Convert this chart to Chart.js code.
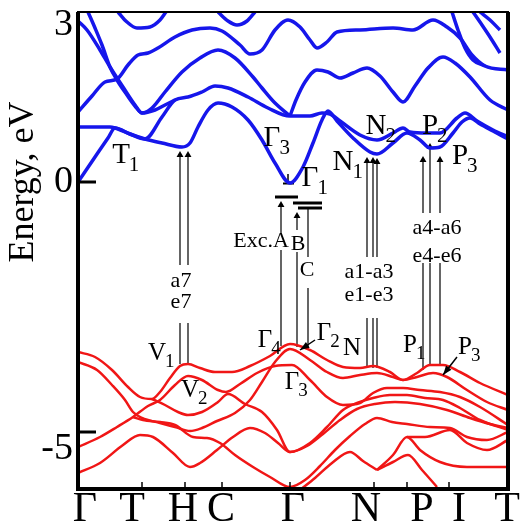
<!DOCTYPE html>
<html lang="en">
<head>
<meta charset="UTF-8">
<title>Band structure</title>
<script src="https://cdn.jsdelivr.net/npm/chart.js"></script>
<style>
  body { margin: 0; background: #fff; }
  #wrap { width: 526px; height: 529px; }
</style>
</head>
<body>
<div id="wrap"><canvas id="bands"></canvas></div>
<script>
// k runs along the path Γ-T-H-C-Γ-N-P-I-T (arbitrary units), energies in eV
const symTicks = [64, 107, 144, 212, 296, 329, 371];
const symLabels = ['Γ', 'T', 'H', 'C', 'Γ', 'N', 'P', 'I', 'T'];
const symLabelPos = [7, 54, 105, 143, 215, 288, 344, 381, 429];
const energyTicks = [-5, 0, 3];

// conduction bands [k, E]
const cb1 = [[0,0],[17,0.5],[30,0.88],[37,1.08],[52,0.96],[67,0.86],[84,0.78],[104,0.7],[112,0.78],[120,1.1],[130,1.44],[140,1.58],[154,1.5],[170,1.24],[184,0.84],[197,0.38],[212,-0.02],[225,0.3],[235,0.78],[244,1.24],[250,1.42],[259,1.22],[275,0.88],[292,0.6],[299,0.56],[315,0.78],[329,0.98],[342,0.84],[352,0.68],[362,0.7],[375,0.98],[384,1.2],[392,1.28],[402,1.16],[415,1.02],[430,0.86]];
const cb2 = [[0,1.1],[22,1.1],[32,1.1],[37,1.08],[52,0.96],[67,0.86],[84,1.3],[97,1.64],[110,1.7],[124,1.8],[137,1.92],[150,1.88],[170,1.7],[190,1.48],[212,1.32],[232,1.32],[244,1.38],[252,1.36],[262,1.22],[282,0.94],[299,0.84],[315,0.98],[325,1.08],[332,1.0],[349,0.98],[362,0.98],[379,1.28],[387,1.38],[399,1.22],[415,1.04],[430,0.9]];
const cb3 = [[0,1.4],[14,1.72],[27,2.0],[39,2.06],[50,2.34],[60,2.54],[70,2.58],[80,2.68],[97,2.9],[114,3.04],[132,3.08],[144,3.02],[162,2.74],[172,2.56],[184,2.64],[197,3.04],[210,3.24],[222,3.1],[232,2.84],[239,2.68],[249,2.8],[259,3.0],[282,3.04],[315,3.08],[335,3.04],[355,3.24],[369,3.1],[382,2.88],[394,2.54],[407,2.32],[430,2.24]];
const cb4 = [[0,3.22],[9,3.04],[22,2.64],[32,2.3],[45,1.9],[57,1.54],[64,1.38],[74,1.48],[87,1.8],[104,2.2],[122,2.48],[140,2.64],[157,2.48],[175,2.1],[184,1.88],[197,1.58],[212,1.32]];
const cb5 = [[10,3.4],[17,3.08],[24,2.74],[32,2.3],[39,2.04],[49,1.74],[57,1.52],[64,1.38],[77,1.44],[87,1.54],[97,1.64]];
const cb6 = [[212,1.32],[218,1.64],[227,2.0],[239,2.24],[250,2.2],[262,2.08],[275,2.18],[289,2.28],[302,2.12],[315,1.8],[325,1.6],[337,1.92],[350,2.28],[365,2.5],[377,2.38],[392,2.1],[412,1.64],[430,1.44]];
const cb7 = [[40,3.4],[49,3.2],[59,3.08],[72,3.1],[82,3.24],[88,3.4]];
const cb8 = [[140,3.4],[150,3.22],[159,3.14],[169,3.22],[177,3.4]];
const cb9 = [[374,3.4],[380,3.04],[387,2.68],[395,2.44],[407,2.32]];
const cb10 = [[395,3.4],[404,3.14],[412,2.9],[422,2.58]];
const cb11 = [[402,3.4],[412,3.24],[422,3.04]];

// valence bands [k, E]
const vb1 = [[0,-3.4],[17,-3.5],[34,-3.76],[50,-4.1],[62,-4.3],[74,-4.34],[82,-4.2],[92,-3.92],[102,-3.68],[110,-3.64],[122,-3.72],[137,-3.8],[154,-3.8],[172,-3.68],[192,-3.48],[212,-3.24],[232,-3.36],[249,-3.56],[265,-3.7],[282,-3.72],[295,-3.68],[312,-3.8],[325,-3.96],[339,-3.82],[352,-3.66],[365,-3.66],[382,-3.8],[402,-4.02],[430,-4.26]];
const vb2 = [[0,-3.6],[19,-3.76],[34,-4.06],[47,-4.36],[55,-4.6],[64,-4.72],[82,-4.82],[97,-4.9],[112,-4.98],[124,-4.92],[139,-4.78],[157,-4.62],[172,-4.36],[184,-4.0],[197,-3.6],[212,-3.34],[232,-3.56],[249,-3.8],[265,-3.92],[282,-3.86],[299,-3.82],[315,-3.9],[325,-3.96],[339,-3.9],[355,-3.82],[369,-3.9],[389,-4.16],[409,-4.4],[430,-4.56]];
const vb3 = [[0,-5.3],[22,-5.1],[39,-4.9],[55,-4.7],[70,-4.48],[82,-4.36],[97,-4.06],[110,-3.88],[124,-3.96],[140,-4.16],[148,-4.2],[162,-4.04],[179,-3.82],[197,-3.68],[214,-3.66],[232,-3.96],[249,-4.3],[265,-4.46],[282,-4.42],[295,-4.22],[309,-4.12],[325,-4.12],[342,-4.16],[362,-4.2],[382,-4.3],[402,-4.5],[430,-4.86]];
const vb4 = [[74,-4.34],[87,-4.46],[100,-4.6],[110,-4.66],[124,-4.6],[140,-4.4],[150,-4.24],[167,-4.44],[184,-4.6],[199,-4.96],[212,-5.4],[232,-5.22],[249,-4.9],[265,-4.56],[279,-4.42],[295,-4.32],[312,-4.26],[329,-4.26],[347,-4.32],[365,-4.36],[382,-4.52],[402,-4.76],[430,-4.96]];
const vb5 = [[0,-5.82],[22,-5.62],[45,-5.26],[62,-5.06],[75,-5.1],[95,-5.42],[112,-5.7],[122,-5.62],[139,-5.36],[155,-5.1],[172,-4.92],[187,-5.02],[200,-5.22],[212,-5.4],[229,-5.28],[245,-5.04],[262,-4.76],[279,-4.54],[297,-4.44],[317,-4.4],[342,-4.44],[369,-4.56],[392,-4.72],[412,-4.84],[430,-4.92]];
const vb6 = [[55,-4.7],[65,-4.76],[82,-4.8],[97,-4.86],[115,-5.1],[129,-5.12],[142,-5.22],[157,-5.46],[175,-5.7],[192,-5.9],[212,-6.1],[227,-5.96],[242,-5.68],[257,-5.36],[272,-5.08],[287,-4.84],[299,-4.72],[314,-4.8],[329,-4.84],[352,-4.9],[372,-4.92],[389,-5.1],[409,-5.16],[430,-5.0]];
const vb7 = [[299,-5.76],[315,-5.46],[329,-5.1],[342,-5.36],[362,-5.6],[389,-5.7],[430,-5.7]];
const vb8 = [[329,-5.1],[347,-5.1],[372,-4.96],[389,-5.22],[409,-5.36],[430,-5.16]];
const vb9 = [[222,-6.16],[237,-5.92],[254,-5.62],[272,-5.4],[285,-5.58],[299,-5.76]];
const vb10 = [[299,-5.76],[315,-5.6],[330,-5.46],[344,-5.76],[359,-6.1]];

// optical transitions: k, lower level, text gap from / to, upper level, arrow head
const transitions = [
  [102, -3.64, -2.82, -1.66, 0.62, 1],
  [110, -3.64, -2.82, -1.66, 0.62, 1],
  [203, -3.28, -1.36, -1.02, -0.38, 1],
  [219, -3.3, -1.4, -0.96, -0.6, 1],
  [230, -3.36, -2.12, -1.5, -0.52, 0],
  [289, -3.72, -2.72, -1.5, 0.5, 1],
  [295, -3.72, -2.72, -1.5, 0.5, 1],
  [299, -3.72, -2.72, -1.5, 0.48, 1],
  [345, -3.76, -1.62, -0.62, 0.52, 1],
  [352, -3.66, -1.62, -0.62, 0.78, 1],
  [362, -3.66, -1.62, -0.62, 0.52, 1]
];
const transitionText = [
  ['a7', 103, -1.98], ['e7', 103, -2.4],
  ['Exc.A', 183, -1.18], ['B', 220, -1.24], ['C', 229, -1.76],
  ['a1-a3', 291, -1.8], ['e1-e3', 291, -2.26],
  ['a4-a6', 359, -0.92], ['e4-e6', 359, -1.48]
];
// exciton levels under the conduction band minimum: k from, k to, E
const excitonBars = [[197, 220, -0.3], [215, 244, -0.42], [220, 244, -0.52]];
// small pointer arrows: from (k, E) to (k, E)
const pointers = [[237, -3.16, 222, -3.36], [379, -3.5, 365, -3.86]];

// point labels: letter, subscript, k, E
const cbPointLabels = [
  ['T', '1', 43, 0.54], ['Γ', '3', 194, 0.88], ['Γ', '1', 232, 0.08],
  ['N', '1', 265, 0.4], ['N', '2', 298, 1.12], ['P', '2', 352, 1.12], ['P', '3', 382, 0.52]
];
const vbPointLabels = [
  ['V', '1', 79, -3.42], ['V', '2', 112, -4.16], ['Γ', '4', 187, -3.16],
  ['Γ', '2', 246, -3.02], ['N', '', 274, -3.32], ['P', '1', 332, -3.26],
  ['P', '3', 387, -3.3], ['Γ', '3', 214, -4.0]
];

const SERIF = '"Liberation Serif", "Times New Roman", serif';
const BLUE = 'rgb(22,22,235)';
const RED = 'rgb(240,22,22)';

function band(points, color, width) {
  return {
    data: points.map(p => ({ x: p[0], y: p[1] })),
    borderColor: color, borderWidth: width, pointRadius: 0,
    cubicInterpolationMode: 'monotone', fill: false
  };
}

function transitionLine(t) {
  const [k, lo, g1, g2, hi, arrow] = t;
  return {
    data: [{ x: k, y: lo }, { x: k, y: g1 }, { x: k, y: null }, { x: k, y: g2 }, { x: k, y: arrow ? hi - 0.08 : hi }],
    borderColor: '#000', borderWidth: 1.2, spanGaps: false,
    pointRadius: [0, 0, 0, 0, arrow ? 4 : 0], pointStyle: 'triangle',
    pointBackgroundColor: '#000', pointBorderWidth: 0
  };
}

function bar(b) {
  return {
    data: [{ x: b[0], y: b[2] }, { x: b[1], y: b[2] }],
    borderColor: '#000', borderWidth: 3, pointRadius: 0
  };
}

const datasets = [
  ...[vb1, vb2, vb3, vb4, vb5, vb6, vb7, vb8, vb9, vb10].map(b => band(b, RED, 2.5)),
  ...[cb1, cb2, cb3, cb4, cb5, cb6, cb7, cb8, cb9, cb10, cb11].map(b => band(b, BLUE, 3.5)),
  ...transitions.map(transitionLine),
  ...excitonBars.map(bar),
  // Γ1 level mark
  { data: [{ x: 210, y: -0.02 }, { x: 210, y: 0.16 }], borderColor: '#000', borderWidth: 1.5, pointRadius: 0 },
  { data: [{ x: 205, y: -0.03 }, { x: 216, y: -0.03 }], borderColor: '#000', borderWidth: 2, pointRadius: 0 }
];

function drawLabel(ctx, px, py, main, sub, size, subSize) {
  ctx.font = size + 'px ' + SERIF;
  const w = ctx.measureText(main).width;
  const left = px - w / 2;
  ctx.textAlign = 'left';
  ctx.textBaseline = 'middle';
  ctx.fillText(main, left, py);
  if (sub) {
    ctx.font = subSize + 'px ' + SERIF;
    ctx.fillText(sub, left + w - 1, py + size * 0.36);
  }
}

const decor = {
  id: 'decor',
  afterDatasetsDraw(chart) {
    const { ctx, chartArea: a, scales: { x, y } } = chart;
    ctx.save();
    ctx.strokeStyle = '#000';
    ctx.fillStyle = '#000';

    // frame, heavier on the axes
    ctx.lineWidth = 2;
    ctx.strokeRect(a.left, a.top, a.right - a.left, a.bottom - a.top);
    ctx.lineWidth = 4;
    ctx.beginPath();
    ctx.moveTo(a.left, a.top);
    ctx.lineTo(a.left, a.bottom);
    ctx.lineTo(a.right, a.bottom);
    ctx.lineTo(a.right, a.top);
    ctx.stroke();

    // inward tick marks
    ctx.lineWidth = 1.5;
    symTicks.forEach(k => {
      const px = x.getPixelForValue(k);
      ctx.beginPath();
      ctx.moveTo(px, a.bottom);
      ctx.lineTo(px, a.bottom - 7);
      ctx.stroke();
    });
    ctx.lineWidth = 3;
    [0, -5].forEach(e => {
      const py = y.getPixelForValue(e);
      ctx.beginPath();
      ctx.moveTo(a.left, py);
      ctx.lineTo(a.left + 18, py);
      ctx.stroke();
    });

    // pointer arrows
    pointers.forEach(([k1, e1, k2, e2]) => {
      const x1 = x.getPixelForValue(k1), y1 = y.getPixelForValue(e1);
      const x2 = x.getPixelForValue(k2), y2 = y.getPixelForValue(e2);
      ctx.lineWidth = 1.5;
      ctx.beginPath();
      ctx.moveTo(x1, y1);
      ctx.lineTo(x2, y2);
      ctx.stroke();
      const ang = Math.atan2(y2 - y1, x2 - x1);
      ctx.beginPath();
      ctx.moveTo(x2, y2);
      ctx.lineTo(x2 - 10 * Math.cos(ang - 0.35), y2 - 10 * Math.sin(ang - 0.35));
      ctx.lineTo(x2 - 10 * Math.cos(ang + 0.35), y2 - 10 * Math.sin(ang + 0.35));
      ctx.closePath();
      ctx.fill();
    });

    // symmetry point labels
    cbPointLabels.forEach(([m, s, k, e]) =>
      drawLabel(ctx, x.getPixelForValue(k), y.getPixelForValue(e), m, s, 29, 21));
    vbPointLabels.forEach(([m, s, k, e]) =>
      drawLabel(ctx, x.getPixelForValue(k), y.getPixelForValue(e), m, s, 25, 19));

    // transition names
    ctx.font = '22px ' + SERIF;
    ctx.textAlign = 'center';
    ctx.textBaseline = 'middle';
    transitionText.forEach(([t, k, e]) => ctx.fillText(t, x.getPixelForValue(k), y.getPixelForValue(e)));

    // axis title
    ctx.translate(24, y.getPixelForValue(0));
    ctx.rotate(-Math.PI / 2);
    ctx.font = '36px ' + SERIF;
    ctx.fillText('Energy, eV', 0, 0);
    ctx.restore();
  }
};

new Chart(document.getElementById('bands'), {
  type: 'line',
  data: { datasets },
  options: {
    responsive: true,
    maintainAspectRatio: false,
    animation: false,
    layout: { padding: { top: 12, right: 18, left: 0, bottom: 0 } },
    plugins: { legend: { display: false }, tooltip: { enabled: false } },
    scales: {
      x: {
        type: 'linear', min: 0, max: 430,
        grid: { display: false, drawTicks: false },
        border: { display: false },
        afterBuildTicks: s => { s.ticks = symLabelPos.map(v => ({ value: v })); },
        afterFit: s => { s.height = 40; s.paddingLeft = 0; s.paddingRight = 0; },
        ticks: {
          autoSkip: false, maxRotation: 0, padding: 0, color: '#000',
          font: { family: SERIF, size: 42, lineHeight: 1 },
          callback: (v, i) => symLabels[i]
        }
      },
      y: {
        type: 'linear', min: -6.14, max: 3.4,
        grid: { display: false, drawTicks: false },
        border: { display: false },
        afterBuildTicks: s => { s.ticks = energyTicks.map(v => ({ value: v })); },
        afterFit: s => { s.width = 78; s.paddingTop = 0; s.paddingBottom = 0; },
        ticks: {
          padding: 5, color: '#000',
          font: c => ({ family: SERIF, size: 38, lineHeight: c.tick && c.tick.value === 3 ? 0.35 : 0.9 }),
          callback: v => v === -5 ? ['', '-5'] : v === 3 ? ['3', ''] : String(v)
        }
      }
    }
  },
  plugins: [decor]
});
</script>
</body>
</html>
